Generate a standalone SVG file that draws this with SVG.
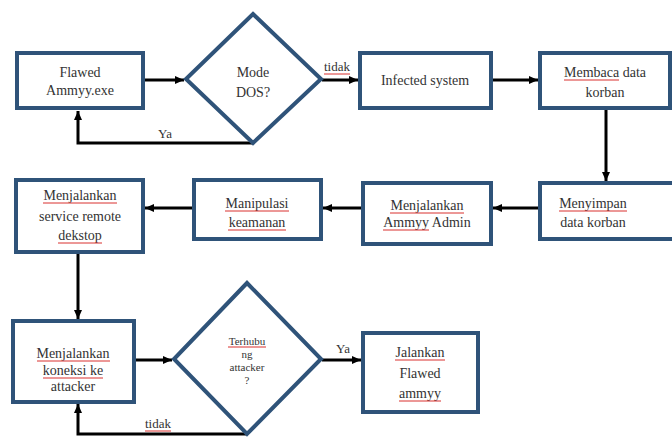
<svg xmlns="http://www.w3.org/2000/svg" width="672" height="437" viewBox="0 0 672 437">
<style>
.box{fill:#fff;stroke:#2f5379;stroke-width:4}
.t{font-family:"Liberation Serif","DejaVu Serif",serif;font-size:14px;fill:#333;text-anchor:middle}
.s{font-size:11px}
.l{font-size:13px}
.c{fill:none;stroke:#000;stroke-width:3}
.u{stroke:#d9302f;stroke-width:1;fill:none}
</style>
<defs>
<marker id="ah" markerUnits="userSpaceOnUse" markerWidth="10" markerHeight="10" refX="9" refY="5" orient="auto">
<path d="M0,1 L9,5 L0,9 Z" fill="#000"/>
</marker>
</defs>
<rect width="672" height="437" fill="#fff"/>
<g id="connectors">
<path class="c" d="M144,80 H184" marker-end="url(#ah)"/>
<path class="c" d="M253,143 H78 V111" marker-end="url(#ah)"/>
<path class="c" d="M322,80 H358" marker-end="url(#ah)"/>
<path class="c" d="M492,80 H538" marker-end="url(#ah)"/>
<path class="c" d="M606,109 V181" marker-end="url(#ah)"/>
<path class="c" d="M539,208 H493" marker-end="url(#ah)"/>
<path class="c" d="M362,208 H323" marker-end="url(#ah)"/>
<path class="c" d="M193,208 H145" marker-end="url(#ah)"/>
<path class="c" d="M78,253 V319" marker-end="url(#ah)"/>
<path class="c" d="M135,360 H172" marker-end="url(#ah)"/>
<path class="c" d="M322,360 H361" marker-end="url(#ah)"/>
<path class="c" d="M247,434 H78 V404" marker-end="url(#ah)"/>
<text class="t l" x="337" y="71">tidak</text>
<text class="t l" x="165" y="138">Ya</text>
<text class="t l" x="343" y="353">Ya</text>
<text class="t l" x="158" y="428">tidak</text>
</g>
<g id="n1">
<rect class="box" x="17" y="53" width="126" height="55"/>
<text class="t" x="80" y="77">Flawed</text>
<text class="t" x="80" y="95">Ammyy.exe</text>
</g>
<g id="n2">
<polygon class="box" points="253,14 321,79 253,143 186,79"/>
<text class="t" x="253" y="77">Mode</text>
<text class="t" x="253" y="97">DOS?</text>
</g>
<g id="n3">
<rect class="box" x="360" y="53" width="131" height="55"/>
<text class="t" x="425" y="85">Infected system</text>
</g>
<g id="n4">
<rect class="box" x="540" y="53" width="130" height="55"/>
<text class="t" x="605" y="77">Membaca data</text>
<text class="t" x="605" y="97">korban</text>
</g>
<g id="n5">
<rect class="box" x="540" y="183" width="140" height="56"/>
<text class="t" x="593" y="208">Menyimpan</text>
<text class="t" x="593" y="227">data korban</text>
</g>
<g id="n6">
<rect class="box" x="363" y="183" width="128" height="61"/>
<text class="t" x="427" y="210">Menjalankan</text>
<text class="t" x="427" y="227">Ammyy Admin</text>
</g>
<g id="n7">
<rect class="box" x="194" y="180" width="127" height="59"/>
<text class="t" x="257" y="208">Manipulasi</text>
<text class="t" x="257" y="227">keamanan</text>
</g>
<g id="n8">
<rect class="box" x="16" y="180" width="127" height="72"/>
<text class="t" x="80" y="200">Menjalankan</text>
<text class="t" x="80" y="221">service remote</text>
<text class="t" x="80" y="240">dekstop</text>
</g>
<g id="n9">
<rect class="box" x="13" y="321" width="121" height="81"/>
<text class="t" x="73" y="358">Menjalankan</text>
<text class="t" x="73" y="375">koneksi ke</text>
<text class="t" x="73" y="391">attacker</text>
</g>
<g id="n10">
<polygon class="box" points="247,283 321,359 247,434 174,359"/>
<text class="t s" x="247" y="345">Terhubu</text>
<text class="t s" x="247" y="358">ng</text>
<text class="t s" x="247" y="371">attacker</text>
<text class="t s" x="247" y="384">?</text>
</g>
<g id="n11">
<rect class="box" x="363" y="333" width="115" height="79"/>
<text class="t" x="420" y="357">Jalankan</text>
<text class="t" x="420" y="378">Flawed</text>
<text class="t" x="420" y="398">ammyy</text>
</g>
<g id="spell">
<path class="u" d="M324,74 H350"/>
<path class="u" d="M564,80 H619"/>
<path class="u" d="M559,211 H627"/>
<path class="u" d="M390,213 H464"/>
<path class="u" d="M383,230 H429"/>
<path class="u" d="M225,211 H289"/>
<path class="u" d="M228,230 H286"/>
<path class="u" d="M43,203 H117"/>
<path class="u" d="M58,243 H102"/>
<path class="u" d="M37,361 H110"/>
<path class="u" d="M43,378 H103"/>
<path class="u" d="M228,347 H266"/>
<path class="u" d="M395,360 H445"/>
<path class="u" d="M399,401 H441"/>
<path class="u" d="M145,431 H171"/>
</g>
</svg>
